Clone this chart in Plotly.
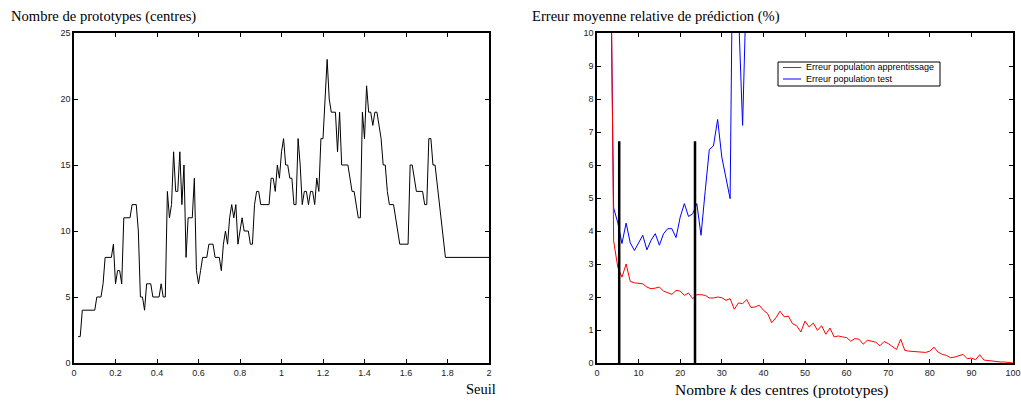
import plotly.graph_objects as go

# ---- Left chart: number of prototypes vs threshold ----
seuil = [0.02, 0.03, 0.04, 0.10, 0.11, 0.13, 0.14, 0.15, 0.18, 0.19, 0.20, 0.21, 0.22, 0.23,
         0.24, 0.27, 0.28, 0.30, 0.31, 0.32, 0.33, 0.34, 0.35, 0.37, 0.38, 0.41, 0.42, 0.43,
         0.44, 0.45, 0.46, 0.47, 0.48, 0.49, 0.50, 0.51, 0.52, 0.53, 0.54, 0.55, 0.57, 0.58,
         0.59, 0.60, 0.61, 0.62, 0.64, 0.65, 0.67, 0.68, 0.70, 0.71, 0.72, 0.73, 0.74, 0.75,
         0.76, 0.77, 0.78, 0.79, 0.80, 0.81, 0.82, 0.84, 0.85, 0.86, 0.87, 0.88, 0.89, 0.90,
         0.94, 0.95, 0.96, 0.97, 0.98, 0.99, 1.00, 1.01, 1.02, 1.03, 1.04, 1.05, 1.06, 1.07,
         1.08, 1.09, 1.10, 1.11, 1.12, 1.13, 1.14, 1.15, 1.16, 1.17, 1.18, 1.19, 1.20, 1.21,
         1.22, 1.23, 1.24, 1.26, 1.27, 1.28, 1.29, 1.32, 1.33, 1.34, 1.35, 1.36, 1.37, 1.38,
         1.39, 1.40, 1.41, 1.42, 1.43, 1.44, 1.45, 1.46, 1.47, 1.48, 1.49, 1.50, 1.51, 1.52,
         1.54, 1.55, 1.56, 1.57, 1.61, 1.62, 1.63, 1.65, 1.68, 1.69, 1.70, 1.71, 1.72, 1.73,
         1.74, 1.76, 1.77, 1.78, 1.79, 2.00]
nb_centres = [2, 2, 4, 4, 5, 5, 6, 8, 8, 9, 6, 7, 7, 6,
              11, 11, 12, 12, 10, 5, 5, 4, 6, 6, 5, 5, 6, 5,
              5, 13, 11, 12, 16, 13, 13, 16, 12, 15, 8, 11, 11, 14,
              7, 6, 7, 8, 8, 9, 9, 8, 8, 7, 9, 10, 9, 11,
              12, 11, 12, 9, 10, 11, 10, 10, 9, 9, 12, 13, 13, 12,
              12, 14, 14, 13, 15, 14, 16, 17, 15, 15, 14, 14, 12, 12,
              17, 15, 12, 13, 13, 12, 13, 13, 12, 14, 13, 17, 17, 20,
              23, 20, 19, 19, 16, 19, 15, 15, 14, 13, 13, 12, 11, 11,
              19, 17, 21, 19, 19, 18, 19, 19, 18, 17, 15, 15, 13, 12,
              12, 11, 10, 9, 9, 15, 15, 13, 13, 12, 12, 17, 17, 15,
              15, 12, 11, 9, 8, 8]

# ---- Right chart: mean relative prediction error vs number of centres ----
k_app = list(range(3, 101))
err_app = [17, 3.7, 2.9, 2.6, 3.0, 2.47, 2.43, 2.42, 2.4, 2.3,
           2.25, 2.27, 2.3, 2.18, 2.13, 2.08, 2.2, 2.18, 2.05, 2.12,
           1.95, 2.07, 2.07, 2.05, 1.97, 1.97, 2.0, 1.98, 1.9, 1.95,
           1.63, 1.82, 1.8, 1.92, 1.68, 1.7, 1.75, 1.6, 1.5, 1.22,
           1.37, 1.57, 1.4, 1.42, 1.19, 1.13, 0.94, 1.27, 1.09, 1.21,
           0.99, 1.13, 0.87, 1.06, 0.79, 0.82, 0.79, 0.77, 0.66, 0.74,
           0.72, 0.57, 0.69, 0.66, 0.63, 0.52, 0.65, 0.59, 0.5, 0.41,
           0.72, 0.38, 0.36, 0.35, 0.36, 0.34, 0.32, 0.36, 0.48, 0.33,
           0.26, 0.23, 0.16, 0.18, 0.22, 0.26, 0.13, 0.15, 0.1, 0.25,
           0.09, 0.07, 0.05, 0.04, 0.03, 0.03, 0.02, 0.0]
k_test = list(range(3, 37))
err_test = [15, 4.7, 4.25, 3.62, 4.24, 3.64, 3.41, 3.64, 3.87, 3.43,
            3.72, 3.92, 3.57, 3.92, 4.07, 4.07, 3.8, 4.42, 4.83, 4.44,
            4.52, 4.83, 3.87, 5.2, 6.47, 6.58, 7.38, 6.24, 5.59, 4.98,
            17.5, 10.7, 7.2, 11.9]
k_marks = [5.34, 23.56]
mark_height = [6.72, 6.72]

legend_names = ["Erreur population apprentissage", "Erreur population test"]
legend_colors = ["red", "blue"]

SANS = "Liberation Sans"
SERIF = "Liberation Serif"

fig = go.Figure()
fig.add_trace(go.Scatter(x=seuil, y=nb_centres, mode="lines", xaxis="x", yaxis="y",
                         line=dict(color="black", width=1), showlegend=False))
fig.add_trace(go.Scatter(x=k_test, y=err_test, mode="lines", xaxis="x2", yaxis="y2",
                         line=dict(color=legend_colors[1], width=1), name=legend_names[1],
                         showlegend=False))
fig.add_trace(go.Scatter(x=k_app, y=err_app, mode="lines", xaxis="x2", yaxis="y2",
                         line=dict(color=legend_colors[0], width=1), name=legend_names[0],
                         showlegend=False))
bx, by = [], []
for k, h in zip(k_marks, mark_height):
    bx += [k, k, None]
    by += [0, h, None]
fig.add_trace(go.Scatter(x=bx, y=by, mode="lines", xaxis="x2", yaxis="y2",
                         line=dict(color="black", width=2.5), showlegend=False))

axis_common = dict(showline=True, linecolor="black", linewidth=1.5, mirror="ticks",
                   ticks="inside", ticklen=4, tickcolor="black", tickwidth=1,
                   showgrid=False, zeroline=False, automargin=False,
                   tickfont=dict(family=SANS, size=9, color="#222"))

W, H = 1021, 401
T, B = 33, 38
ph = H - T - B


def py(pix):
    return (H - B - pix) / ph


fig.update_layout(
    width=W, height=H, autosize=False,
    margin=dict(l=0, r=0, t=T, b=B, pad=0),
    paper_bgcolor="white", plot_bgcolor="white",
    xaxis=dict(domain=[74 / W, 489 / W], range=[0, 2], dtick=0.2, anchor="y", **axis_common),
    yaxis=dict(domain=[0, 1], range=[0, 25], dtick=5, anchor="x", **axis_common),
    xaxis2=dict(domain=[597 / W, 1013 / W], range=[0, 100], dtick=10, anchor="y2", **axis_common),
    yaxis2=dict(domain=[0, 1], range=[0, 10], dtick=1, anchor="x2", **axis_common),
    showlegend=False,
)

# Compact legend box (drawn as layout decoration)
fig.add_shape(type="rect", xref="paper", yref="paper",
              x0=778 / W, x1=940 / W, y0=py(86), y1=py(62),
              line=dict(color="black", width=1), fillcolor="white", layer="above")
for i, (name, col) in enumerate(zip(legend_names, legend_colors)):
    yy = py(67.5 + 11.5 * i)
    fig.add_shape(type="line", xref="paper", yref="paper",
                  x0=783 / W, x1=801 / W, y0=yy, y1=yy,
                  line=dict(color=col, width=1), layer="above")
    fig.add_annotation(text=name, x=804 / W, y=yy, xref="paper", yref="paper",
                       xanchor="left", yanchor="middle", showarrow=False,
                       font=dict(family=SANS, size=9, color="black"))

fig.add_annotation(text="Nombre de prototypes (centres)", x=9 / W, y=py(16), xref="paper", yref="paper",
                   xanchor="left", yanchor="middle", showarrow=False,
                   font=dict(family=SERIF, size=14.6, color="black"))
fig.add_annotation(text="Erreur moyenne relative de prédiction (%)", x=530 / W, y=py(16),
                   xref="paper", yref="paper", xanchor="left", yanchor="middle", showarrow=False,
                   font=dict(family=SERIF, size=14.6, color="black"))
fig.add_annotation(text="Seuil", x=498 / W, y=py(389), xref="paper", yref="paper",
                   xanchor="right", yanchor="middle", showarrow=False,
                   font=dict(family=SERIF, size=14.5, color="black"))
fig.add_annotation(text="Nombre <i>k</i> des centres (prototypes)", x=782 / W, y=py(390),
                   xref="paper", yref="paper", xanchor="center", yanchor="middle", showarrow=False,
                   font=dict(family=SERIF, size=15.5, color="black"))

fig.write_html("out.html", config={"displayModeBar": False},
               post_script="document.body.style.margin='0';document.body.style.overflow='hidden';")
